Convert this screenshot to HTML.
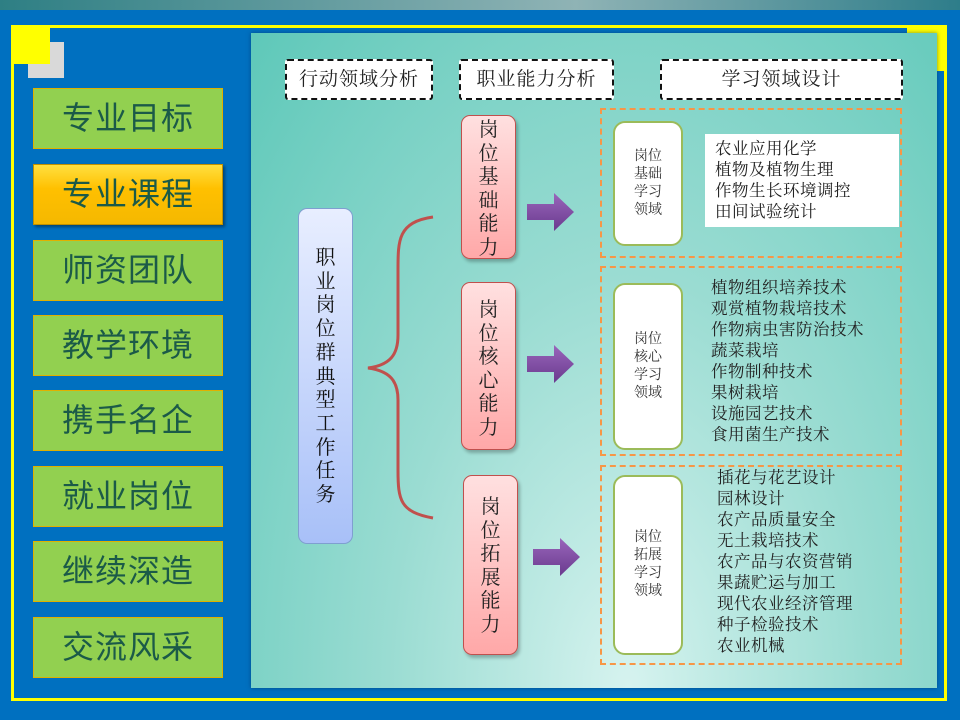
<!DOCTYPE html>
<html><head><meta charset="utf-8"><style>
*{margin:0;padding:0;box-sizing:border-box}
body{width:960px;height:720px;background:#0070c0;position:relative;overflow:hidden;font-family:"Liberation Sans","Noto Sans CJK SC",sans-serif}
.a{position:absolute}
.sf{font-family:"Liberation Serif","Noto Serif CJK SC",serif}
.btn{position:absolute;left:33px;width:190px;height:61px;background:#92d050;border:1px solid #e0b000;color:#1b5a48;font-size:32px;text-align:center;line-height:59px;letter-spacing:1px}
.hd{position:absolute;top:59px;height:41px;background:#fff;border:2px dashed #111;border-radius:3px;font-size:19px;text-align:center;line-height:37px;color:#222;letter-spacing:1px}
.pink{position:absolute;width:55px;border:1px solid #c0504d;border-radius:9px;background:linear-gradient(#ffe0e0,#ffa8a8);font-size:20px;color:#222;text-align:center;line-height:23.5px;box-shadow:2px 3px 3px rgba(0,0,0,.25)}
.og{position:absolute;left:600px;width:302px;border:2px dashed #f79646}
.wb{position:absolute;left:613px;width:70px;background:#fff;border:2px solid #9bbb59;border-radius:12px;font-size:14px;color:#333;text-align:center;line-height:18px;display:flex;align-items:center;justify-content:center}
.lst{position:absolute;font-size:16.5px;line-height:21px;color:#222;letter-spacing:.5px}
</style></head><body>
<div class="a" style="left:0;top:0;width:960px;height:10px;background:linear-gradient(90deg,#2e7f84,#8fb3b5 60%,#2e7d8a)"></div>
<div class="a" style="left:11px;top:25px;width:936px;height:676px;border:3px solid #ffff00"></div>
<div class="a" style="left:907px;top:25px;width:40px;height:46px;background:#ffff00"></div>
<div class="a" style="left:28px;top:42px;width:36px;height:36px;background:#d9d9d9"></div>
<div class="a" style="left:13px;top:27px;width:37px;height:37px;background:#ffff00"></div>
<div class="a" style="left:251px;top:33px;width:686px;height:655px;background:radial-gradient(ellipse at 55% 100%,#d6f3ef 0%,#9adcd2 45%,#5ec8b9 100%);box-shadow:0 0 4px rgba(0,40,80,.5)"></div>
<div class="btn" style="top:88px">专业目标</div>
<div class="btn" style="top:164px;background:linear-gradient(#ffe040,#ffc000 40%,#f5b800);border-color:#c09000;box-shadow:2px 2px 3px rgba(0,0,0,.4)">专业课程</div>
<div class="btn" style="top:240px">师资团队</div>
<div class="btn" style="top:315px">教学环境</div>
<div class="btn" style="top:390px">携手名企</div>
<div class="btn" style="top:466px">就业岗位</div>
<div class="btn" style="top:541px">继续深造</div>
<div class="btn" style="top:617px">交流风采</div>
<div class="hd sf" style="left:285px;width:148px">行动领域分析</div>
<div class="hd sf" style="left:459px;width:155px">职业能力分析</div>
<div class="hd sf" style="left:660px;width:243px">学习领域设计</div>
<div class="a sf" style="left:298px;top:208px;width:55px;height:336px;border:1px solid #7f9fd0;border-radius:9px;background:linear-gradient(#e8eeff,#a8c0f8);font-size:20px;text-align:center;line-height:23.7px;padding-top:38px;color:#111">职<br>业<br>岗<br>位<br>群<br>典<br>型<br>工<br>作<br>任<br>务</div>
<svg class="a" style="left:0;top:0" width="960" height="720">
<path d="M433,217 C398,222 398,240 398,270 L398,335 C398,355 390,365 368,368 C390,371 398,381 398,400 L398,470 C398,500 400,512 433,518" fill="none" stroke="#c0504d" stroke-width="3"/>
<defs><linearGradient id="g" x1="0" y1="0" x2="0" y2="1"><stop offset="0" stop-color="#9966bb"/><stop offset="1" stop-color="#6a3a8e"/></linearGradient></defs>
<path d="M527,204 h27 v-11 l20,19 -20,19 v-11 h-27z" fill="url(#g)"/>
<path d="M527,356 h27 v-11 l20,19 -20,19 v-11 h-27z" fill="url(#g)"/>
<path d="M533,549 h27 v-11 l20,19 -20,19 v-11 h-27z" fill="url(#g)"/>
</svg>
<div class="pink sf" style="left:461px;top:115px;height:144px;padding-top:3px">岗<br>位<br>基<br>础<br>能<br>力</div>
<div class="pink sf" style="left:461px;top:282px;height:168px;padding-top:16px">岗<br>位<br>核<br>心<br>能<br>力</div>
<div class="pink sf" style="left:463px;top:475px;height:180px;padding-top:20px">岗<br>位<br>拓<br>展<br>能<br>力</div>
<div class="og" style="top:108px;height:150px"></div>
<div class="og" style="top:266px;height:190px"></div>
<div class="og" style="top:465px;height:200px"></div>
<div class="wb sf" style="top:121px;height:125px">岗位<br>基础<br>学习<br>领域</div>
<div class="wb sf" style="top:283px;height:167px">岗位<br>核心<br>学习<br>领域</div>
<div class="wb sf" style="top:475px;height:180px">岗位<br>拓展<br>学习<br>领域</div>
<div class="a" style="left:705px;top:134px;width:194px;height:93px;background:#fff"></div>
<div class="lst sf" style="left:715px;top:138px">农业应用化学<br>植物及植物生理<br>作物生长环境调控<br>田间试验统计</div>
<div class="lst sf" style="left:711px;top:277px">植物组织培养技术<br>观赏植物栽培技术<br>作物病虫害防治技术<br>蔬菜栽培<br>作物制种技术<br>果树栽培<br>设施园艺技术<br>食用菌生产技术</div>
<div class="lst sf" style="left:717px;top:467px">插花与花艺设计<br>园林设计<br>农产品质量安全<br>无土栽培技术<br>农产品与农资营销<br>果蔬贮运与加工<br>现代农业经济管理<br>种子检验技术<br>农业机械</div>
</body></html>
